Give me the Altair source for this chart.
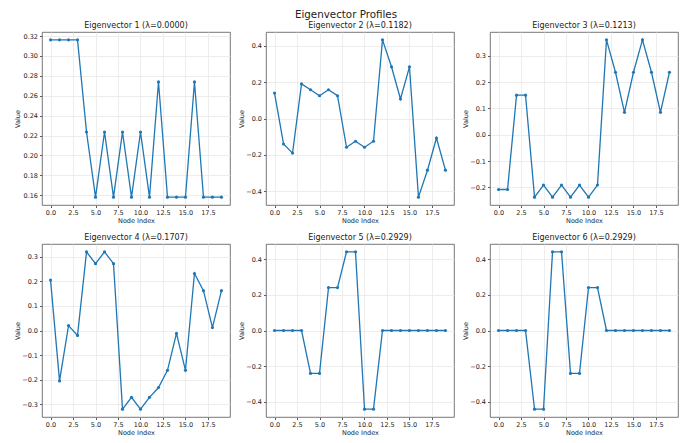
import altair as alt
import pandas as pd

FONT = "DejaVu Sans"
BLUE = "#1f77b4"

nodes = list(range(20))

ev1 = [0.3162, 0.3162, 0.3162, 0.3162, 0.2236, 0.1581, 0.2236, 0.1581, 0.2236, 0.1581,
       0.2236, 0.1581, 0.2739, 0.1581, 0.1581, 0.1581, 0.2739, 0.1581, 0.1581, 0.1581]
ev2 = [0.140, -0.140, -0.190, 0.190, 0.158, 0.125, 0.158, 0.125, -0.158, -0.125,
       -0.158, -0.125, 0.432, 0.284, 0.107, 0.284, -0.432, -0.284, -0.107, -0.284]
ev3 = [-0.208, -0.208, 0.150, 0.150, -0.237, -0.191, -0.237, -0.191, -0.237, -0.191,
       -0.237, -0.191, 0.360, 0.237, 0.085, 0.237, 0.360, 0.237, 0.085, 0.237]
ev4 = [0.205, -0.205, 0.020, -0.020, 0.320, 0.272, 0.320, 0.272, -0.320, -0.272,
       -0.320, -0.272, -0.232, -0.162, -0.012, -0.162, 0.232, 0.162, 0.012, 0.162]
ev5 = [0.0, 0.0, 0.0, 0.0, -0.240, -0.240, 0.240, 0.240, 0.440, 0.440,
       -0.440, -0.440, 0.0, 0.0, 0.0, 0.0, 0.0, 0.0, 0.0, 0.0]
ev6 = [0.0, 0.0, 0.0, 0.0, -0.440, -0.440, 0.440, 0.440, -0.240, -0.240,
       0.240, 0.240, 0.0, 0.0, 0.0, 0.0, 0.0, 0.0, 0.0, 0.0]

vectors = [ev1, ev2, ev3, ev4, ev5, ev6]
lambdas = ["0.0000", "0.1182", "0.1213", "0.1707", "0.2929", "0.2929"]

x_ticks = [0.0, 2.5, 5.0, 7.5, 10.0, 12.5, 15.0, 17.5]
y_ticks = [
    [0.16, 0.18, 0.20, 0.22, 0.24, 0.26, 0.28, 0.30, 0.32],
    [-0.4, -0.2, 0.0, 0.2, 0.4],
    [-0.2, -0.1, 0.0, 0.1, 0.2, 0.3],
    [-0.3, -0.2, -0.1, 0.0, 0.1, 0.2, 0.3],
    [-0.4, -0.2, 0.0, 0.2, 0.4],
    [-0.4, -0.2, 0.0, 0.2, 0.4],
]
y_formats = [".2f", ".1f", ".1f", ".1f", ".1f", ".1f"]

W, H = 188, 173


def panel(i):
    vals = vectors[i]
    lo, hi = min(vals), max(vals)
    m = (hi - lo) * 0.05
    df = pd.DataFrame({"node": nodes, "value": vals})
    base = alt.Chart(df).encode(
        x=alt.X("node:Q",
                scale=alt.Scale(domain=[-0.95, 19.95], nice=False, zero=False),
                axis=alt.Axis(values=x_ticks, format=".1f", title="Node Index")),
        y=alt.Y("value:Q",
                scale=alt.Scale(domain=[lo - m, hi + m], nice=False, zero=False),
                axis=alt.Axis(values=y_ticks[i], format=y_formats[i], title="Value")),
    )
    line = base.mark_line(color=BLUE, strokeWidth=1.3)
    pts = base.mark_circle(color=BLUE, size=10, opacity=1)
    return alt.layer(line, pts).properties(
        width=W, height=H,
        title=alt.TitleParams(f"Eigenvector {i + 1} (λ={lambdas[i]})"),
    )


row1 = alt.hconcat(panel(0), panel(1), panel(2), spacing=6)
row2 = alt.hconcat(panel(3), panel(4), panel(5), spacing=6)

chart = alt.vconcat(
    row1, row2, spacing=8,
    title=alt.TitleParams("Eigenvector Profiles", fontSize=10.3, offset=1, anchor="middle"),
).properties(
    padding={"left": 5, "top": 2, "right": 5, "bottom": 0},
).configure_axis(
    labelFont=FONT, titleFont=FONT, labelFontSize=6.5, titleFontSize=6.5,
    titleFontWeight="normal", labelColor="#222222", titleColor="#222222",
    tickColor="#333333", tickSize=2.5, tickWidth=0.8, labelPadding=2, titlePadding=1.5,
    domain=False, gridColor="#e8e8e8", gridWidth=0.8,
).configure_axisY(
    minExtent=20.5, maxExtent=20.5,
).configure_view(
    stroke="#555555", strokeWidth=0.8,
).configure_title(
    font=FONT, fontSize=8.0, fontWeight="normal", color="#222222", offset=2, anchor="middle",
)

chart.save("out.html", embed_options={"renderer": "svg", "actions": False})
